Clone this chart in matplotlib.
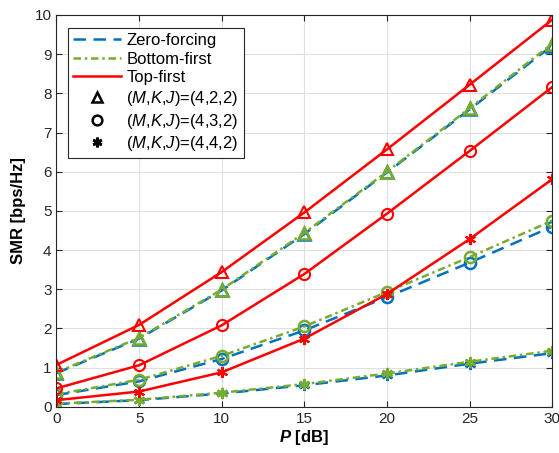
import matplotlib
matplotlib.use('Agg')
import matplotlib.pyplot as plt
from matplotlib.lines import Line2D

plt.rcParams['font.family'] = ['Liberation Sans', 'DejaVu Sans']
plt.rcParams['mathtext.fontset'] = 'custom'
plt.rcParams['mathtext.it'] = 'Liberation Sans:italic'
plt.rcParams['mathtext.bf'] = 'Liberation Sans:bold:italic'

# SNR axis
power_db = [0, 5, 10, 15, 20, 25, 30]

# (M,K,J)=(4,2,2)
zf_422 = [0.86, 1.74, 2.97, 4.41, 5.98, 7.59, 9.22]
bf_422 = [0.88, 1.76, 2.99, 4.44, 6.00, 7.62, 9.27]
tf_422 = [1.07, 2.09, 3.44, 4.96, 6.57, 8.22, 9.88]

# (M,K,J)=(4,3,2)
zf_432 = [0.30, 0.65, 1.22, 1.95, 2.80, 3.68, 4.60]
bf_432 = [0.32, 0.69, 1.30, 2.05, 2.93, 3.82, 4.75]
tf_432 = [0.47, 1.06, 2.08, 3.39, 4.93, 6.53, 8.16]

# (M,K,J)=(4,4,2)
zf_442 = [0.07, 0.17, 0.34, 0.55, 0.80, 1.10, 1.37]
bf_442 = [0.08, 0.18, 0.36, 0.58, 0.85, 1.15, 1.43]
tf_442 = [0.17, 0.39, 0.88, 1.74, 2.88, 4.28, 5.81]

blue = '#0072BD'
green = '#77AC30'
red = '#FF0000'
asterisk = (6, 2, 0)

fig = plt.figure(figsize=(5.59, 4.53), dpi=100)
ax = fig.add_axes([0.101, 0.102, 0.887, 0.865])

markers = ['^', 'o', asterisk]
sizes = [9, 8, 8]
groups = [(zf_422, bf_422, tf_422), (zf_432, bf_432, tf_432), (zf_442, bf_442, tf_442)]
for mk, ms, (zf, bf, tf) in zip(markers, sizes, groups):
    filled = mk == asterisk
    ax.plot(power_db, zf, color=blue, linestyle=(0, (5, 3)), lw=1.8, marker=mk,
            markersize=ms, markerfacecolor=blue if filled else 'none', markeredgewidth=1.8)
    ax.plot(power_db, bf, color=green, linestyle=(0, (3, 1.5, 1, 1.5)), lw=1.8, marker=mk,
            markersize=ms, markerfacecolor=green if filled else 'none', markeredgewidth=1.8)
    ax.plot(power_db, tf, color=red, linestyle='-', lw=1.8, marker=mk,
            markersize=ms, markerfacecolor=red if filled else 'none', markeredgewidth=1.5)

ax.set_xlim(0, 30)
ax.set_ylim(0, 10)
ax.set_xticks(power_db)
ax.set_yticks(range(0, 11))
ax.grid(True, color='#dfdfdf', lw=0.8)
ax.set_axisbelow(True)
ax.tick_params(direction='in', top=True, right=True, labelsize=11, length=4, colors='#262626')
for s in ax.spines.values():
    s.set_color('#262626')
    s.set_linewidth(0.8)

ax.set_xlabel(r'$\mathbf{P}$ [dB]', fontsize=12, fontweight='bold', labelpad=2)
ax.set_ylabel('SMR [bps/Hz]', fontsize=12, fontweight='bold', labelpad=6)

handles = [
    Line2D([], [], color=blue, linestyle=(0, (5, 3)), lw=1.8),
    Line2D([], [], color=green, linestyle=(0, (3, 1.5, 1, 1.5)), lw=1.8),
    Line2D([], [], color=red, lw=1.8),
    Line2D([], [], color='black', linestyle='none', marker='^', markersize=7, markerfacecolor='none', markeredgewidth=1.8),
    Line2D([], [], color='black', linestyle='none', marker='o', markersize=7, markerfacecolor='none', markeredgewidth=1.8),
    Line2D([], [], color='black', linestyle='none', marker=asterisk, markersize=7, markeredgewidth=2),
]
labels = ['Zero-forcing', 'Bottom-first', 'Top-first',
          r'($M$,$K$,$J$)=(4,2,2)', r'($M$,$K$,$J$)=(4,3,2)', r'($M$,$K$,$J$)=(4,4,2)']
leg = ax.legend(handles, labels, loc='upper left', bbox_to_anchor=(0.023, 0.967), fontsize=12,
                handlelength=2.9, handletextpad=0.3, labelspacing=0.22, borderpad=0.3,
                fancybox=False, framealpha=1, edgecolor='#262626', borderaxespad=0)
leg.get_frame().set_linewidth(0.8)

fig.savefig('out.png', dpi=100)
